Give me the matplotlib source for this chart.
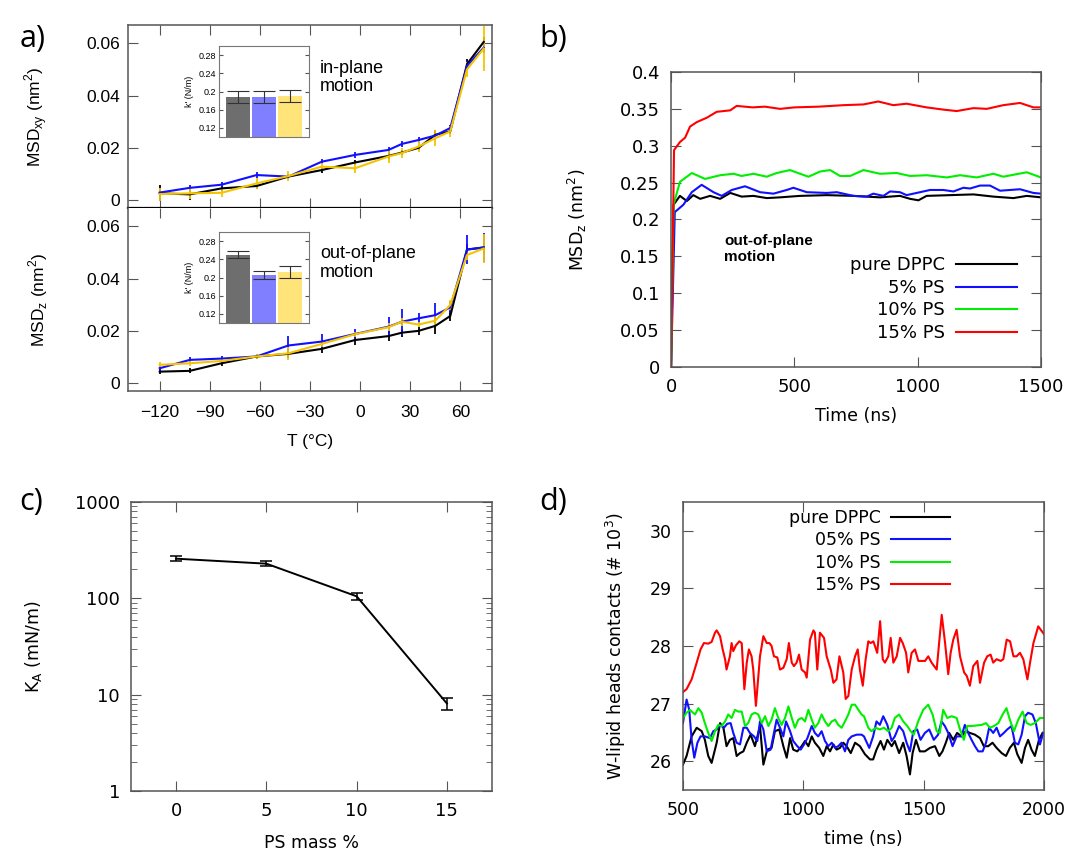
import matplotlib
matplotlib.use("Agg")
import matplotlib.pyplot as plt
import numpy as np
from matplotlib.ticker import FuncFormatter, LogLocator, NullFormatter

# ---- panel a: MSD vs temperature ----
temp_c = [-120, -102, -83, -62, -43, -23, -3, 17, 25, 35, 45, 54, 64, 74]

msd_xy_dppc = [0.0026, 0.0022, 0.0045, 0.0054, 0.0090, 0.0115, 0.0144, 0.0169, 0.0182, 0.0200, 0.0250, 0.0263, 0.0520, 0.0605]
msd_xy_ps5 = [0.0029, 0.0047, 0.0059, 0.0096, 0.0090, 0.0147, 0.0173, 0.0192, 0.0215, 0.0230, 0.0247, 0.0276, 0.0513, 0.0583]
msd_xy_ps10 = [0.0023, 0.0026, 0.0028, 0.0064, 0.0092, 0.0128, 0.0122, 0.0167, 0.0180, 0.0205, 0.0237, 0.0263, 0.0500, 0.0580]
err_xy_dppc = [0.003, 0.002, 0.001, 0.001, 0.001, 0.001, 0.001, 0.001, 0.001, 0.001, 0.002, 0.001, 0.002, 0.002]
err_xy_ps5 = [0.001, 0.001, 0.001, 0.001, 0.001, 0.001, 0.001, 0.001, 0.001, 0.001, 0.001, 0.001, 0.002, 0.002]
err_xy_ps10 = [0.0025, 0.002, 0.0015, 0.002, 0.002, 0.0015, 0.002, 0.0025, 0.002, 0.002, 0.003, 0.002, 0.003, 0.0087]

msd_z_dppc = [0.0044, 0.0047, 0.0076, 0.0102, 0.0112, 0.0131, 0.0165, 0.0180, 0.0193, 0.0200, 0.0219, 0.0257, 0.0511, 0.0519]
msd_z_ps5 = [0.0057, 0.0089, 0.0094, 0.0102, 0.0144, 0.0159, 0.0188, 0.0216, 0.0235, 0.0248, 0.0260, 0.0290, 0.0511, 0.0519]
msd_z_ps10 = [0.0070, 0.0076, 0.0085, 0.0102, 0.0114, 0.0150, 0.0187, 0.0214, 0.0235, 0.0224, 0.0239, 0.0299, 0.0490, 0.0515]
err_z_dppc = [0.001, 0.001, 0.001, 0.001, 0.0015, 0.0015, 0.002, 0.002, 0.0015, 0.0015, 0.003, 0.002, 0.002, 0.002]
err_z_ps5 = [0.001, 0.001, 0.001, 0.001, 0.0038, 0.003, 0.002, 0.0038, 0.005, 0.002, 0.0045, 0.002, 0.0057, 0.0057]
err_z_ps10 = [0.001, 0.001, 0.001, 0.001, 0.0025, 0.001, 0.001, 0.0015, 0.0015, 0.001, 0.002, 0.002, 0.002, 0.0057]

# insets: spring constants k'
k_xy = [0.188, 0.188, 0.190]
k_xy_err = [0.013, 0.013, 0.014]
k_z = [0.250, 0.205, 0.212]
k_z_err = [0.008, 0.009, 0.013]

# ---- panel b: MSD_z vs time ----
tb_dppc = [0, 10, 36, 64, 90, 118, 158, 199, 240, 286, 334, 388, 442, 523, 631, 739, 847, 928, 969, 1003, 1036, 1131, 1226, 1307, 1388, 1442, 1500]
b_dppc = [0, 0.220, 0.232, 0.225, 0.233, 0.228, 0.232, 0.228, 0.236, 0.231, 0.232, 0.229, 0.230, 0.232, 0.233, 0.232, 0.230, 0.232, 0.228, 0.226, 0.232, 0.233, 0.234, 0.231, 0.229, 0.232, 0.230]
tb_ps5 = [0, 15, 50, 84, 124, 172, 205, 246, 300, 361, 415, 469, 496, 550, 631, 672, 739, 793, 820, 861, 888, 928, 955, 996, 1050, 1104, 1145, 1185, 1212, 1253, 1293, 1334, 1415, 1469, 1500]
b_ps5 = [0, 0.210, 0.220, 0.237, 0.247, 0.237, 0.232, 0.240, 0.245, 0.237, 0.235, 0.240, 0.243, 0.237, 0.236, 0.237, 0.232, 0.231, 0.235, 0.232, 0.238, 0.237, 0.233, 0.236, 0.240, 0.240, 0.238, 0.243, 0.242, 0.246, 0.246, 0.239, 0.241, 0.236, 0.235]
tb_ps10 = [0, 10, 36, 84, 138, 199, 253, 286, 334, 388, 428, 482, 523, 557, 604, 645, 685, 726, 780, 847, 915, 969, 1036, 1118, 1172, 1239, 1307, 1347, 1442, 1500]
b_ps10 = [0, 0.220, 0.251, 0.263, 0.255, 0.260, 0.262, 0.259, 0.262, 0.258, 0.263, 0.267, 0.262, 0.258, 0.265, 0.267, 0.259, 0.259, 0.267, 0.262, 0.263, 0.259, 0.260, 0.257, 0.260, 0.257, 0.262, 0.258, 0.264, 0.257]
tb_ps15 = [0, 12, 36, 57, 77, 104, 145, 185, 240, 266, 330, 380, 442, 500, 600, 699, 780, 840, 901, 955, 1036, 1104, 1158, 1226, 1280, 1347, 1415, 1469, 1500]
b_ps15 = [0, 0.294, 0.305, 0.311, 0.326, 0.332, 0.338, 0.346, 0.348, 0.354, 0.352, 0.353, 0.350, 0.352, 0.353, 0.355, 0.356, 0.360, 0.355, 0.357, 0.352, 0.349, 0.347, 0.351, 0.350, 0.355, 0.358, 0.352, 0.352]

# ---- panel c: area compressibility ----
ps_mass = [0, 5, 10, 15]
ka = [258, 229, 105, 8.1]
ka_err = [15, 14, 8, 1.1]

# ---- panel d: W-lipid head contacts ----
td_dppc = [500, 515, 536, 557, 578, 591, 605, 619, 640, 654, 668, 681, 695, 709, 723, 737, 751, 765, 781, 799, 820, 834, 850, 868, 882, 900, 917, 931, 945, 958, 975, 993, 1007, 1021, 1035, 1048, 1066, 1083, 1097, 1111, 1125, 1138, 1152, 1166, 1180, 1197, 1215, 1235,
           1256, 1277, 1290, 1304, 1321, 1335, 1349, 1367, 1380, 1398, 1415, 1429, 1443, 1454, 1468, 1484, 1505, 1526, 1547, 1565, 1578, 1592, 1606, 1623, 1639, 1657, 1675, 1692, 1713, 1734, 1750, 1768, 1786, 1803, 1824, 1842, 1858, 1875, 1889, 1907, 1921, 1934, 1948, 1962, 1979, 1994]
d_dppc = [25.94, 26.09, 26.43, 26.58, 26.52, 26.37, 26.09, 25.97, 26.32, 26.66, 26.58, 26.26, 26.37, 26.40, 26.09, 26.14, 26.17, 26.32, 26.46, 26.26, 26.61, 25.94, 26.20, 26.23, 26.52, 26.55, 26.26, 26.06, 26.40, 26.20, 26.17, 26.26, 26.35, 26.26, 26.43, 26.32, 26.23, 26.09, 26.26, 26.17, 26.29, 26.20, 26.23, 26.32, 26.26, 26.14, 26.32, 26.26,
          26.12, 26.03, 26.03, 26.20, 26.35, 26.20, 26.37, 26.26, 26.35, 26.14, 26.32, 26.09, 25.77, 26.14, 26.37, 26.17, 26.17, 26.23, 26.26, 26.09, 26.17, 26.32, 26.49, 26.37, 26.49, 26.43, 26.52, 26.49, 26.46, 26.40, 26.26, 26.26, 26.32, 26.23, 26.14, 26.09, 26.23, 26.32, 26.12, 25.97, 26.23, 26.37, 26.20, 26.09, 26.37, 26.49]
td_ps5 = [500, 515, 526, 536, 547, 560, 573, 591, 612, 626, 640, 654, 670, 684, 698, 709, 723, 737, 751, 765, 778, 795, 809, 820, 834, 848, 864, 878, 889, 903, 917, 928, 945, 958, 975, 989, 1003, 1017, 1035, 1048, 1062, 1076, 1090, 1104, 1118, 1132, 1145, 1159, 1173, 1187, 1201, 1222, 1242,
          1252, 1274, 1290, 1304, 1318, 1332, 1349, 1367, 1380, 1398, 1415, 1429, 1443, 1457, 1473, 1487, 1505, 1523, 1542, 1560, 1574, 1588, 1602, 1620, 1637, 1657, 1671, 1685, 1699, 1713, 1727, 1745, 1759, 1772, 1789, 1803, 1817, 1833, 1847, 1865, 1879, 1893, 1907, 1921, 1934, 1952, 1966, 1983, 1997]
d_ps5 = [26.66, 27.07, 26.89, 26.37, 26.06, 26.32, 26.43, 26.43, 26.40, 26.52, 26.55, 26.63, 26.58, 26.65, 26.66, 26.49, 26.32, 26.29, 26.58, 26.58, 26.49, 26.43, 26.35, 26.69, 26.55, 26.17, 26.20, 26.49, 26.72, 26.58, 26.43, 26.69, 26.52, 26.35, 26.26, 26.20, 26.29, 26.40, 26.61, 26.49, 26.43, 26.52, 26.35, 26.26, 26.32, 26.23, 26.26, 26.32, 26.17, 26.37, 26.43, 26.46, 26.46,
         26.43, 26.23, 26.43, 26.69, 26.63, 26.78, 26.63, 26.35, 26.43, 26.61, 26.52, 26.32, 26.17, 26.52, 26.55, 26.37, 26.49, 26.55, 26.37, 26.46, 26.69, 26.61, 26.49, 26.26, 26.43, 26.43, 26.63, 26.49, 26.37, 26.26, 26.17, 26.17, 26.32, 26.58, 26.49, 26.58, 26.43, 26.49, 26.55, 26.61, 26.32, 26.29, 26.46, 26.78, 26.84, 26.81, 26.66, 26.29, 26.49]
td_ps10 = [500, 515, 529, 550, 564, 578, 591, 605, 619, 633, 647, 661, 675, 688, 702, 716, 730, 744, 758, 771, 785, 799, 813, 827, 841, 855, 868, 882, 896, 910, 924, 938, 952, 965, 979, 993, 1007, 1021, 1035, 1048, 1062, 1076, 1090, 1104, 1118, 1132, 1145, 1159, 1173, 1187, 1201, 1215, 1229, 1242,
           1252, 1270, 1283, 1301, 1318, 1335, 1353, 1367, 1380, 1398, 1415, 1432, 1446, 1459, 1477, 1498, 1519, 1537, 1554, 1567, 1581, 1598, 1616, 1637, 1651, 1667, 1681, 1699, 1720, 1741, 1759, 1775, 1792, 1810, 1828, 1844, 1858, 1875, 1893, 1911, 1928, 1944, 1962, 1983, 1999]
d_ps10 = [26.75, 26.84, 26.89, 26.81, 26.92, 26.84, 26.66, 26.49, 26.35, 26.52, 26.63, 26.61, 26.69, 26.81, 26.75, 26.89, 26.86, 26.86, 26.61, 26.66, 26.81, 26.84, 26.81, 26.66, 26.78, 26.61, 26.72, 26.92, 26.75, 26.63, 26.75, 26.95, 26.75, 26.58, 26.72, 26.75, 26.69, 26.89, 26.72, 26.58, 26.66, 26.81, 26.69, 26.61, 26.69, 26.72, 26.63, 26.58, 26.69, 26.81, 26.98, 26.98, 26.89, 26.81,
          26.78, 26.58, 26.52, 26.58, 26.55, 26.58, 26.52, 26.58, 26.75, 26.81, 26.69, 26.61, 26.52, 26.46, 26.69, 26.89, 26.98, 26.81, 26.52, 26.49, 26.89, 26.75, 26.78, 26.75, 26.55, 26.37, 26.61, 26.61, 26.62, 26.63, 26.66, 26.58, 26.61, 26.66, 26.81, 26.92, 26.72, 26.52, 26.72, 26.86, 26.66, 26.63, 26.66, 26.75, 26.75]
td_ps15 = [500, 515, 536, 557, 573, 587, 605, 619, 633, 640, 654, 665, 675, 681, 695, 702, 709, 720, 734, 744, 755, 765, 774, 785, 792, 803, 820, 834, 848, 859, 868, 878, 892, 903, 917, 931, 940, 952, 961, 972, 982, 993, 1007, 1014, 1028, 1042, 1048, 1058, 1069, 1086, 1097, 1114, 1125, 1138, 1150, 1166, 1176, 1187,
           1201, 1215, 1226, 1235, 1247, 1259, 1270, 1280, 1291, 1307, 1319, 1330, 1339, 1353, 1363, 1374, 1388, 1402, 1413, 1427, 1436, 1450, 1464, 1478, 1492, 1506, 1519, 1533, 1554, 1575, 1589, 1602, 1612, 1623, 1637, 1651, 1668, 1679, 1692, 1706, 1723, 1734, 1751, 1764, 1778, 1789, 1803, 1820, 1831, 1845, 1859, 1873, 1886, 1900, 1914, 1931, 1942, 1956, 1976, 1990, 2001]
d_ps15 = [27.20, 27.25, 27.42, 27.71, 27.94, 28.05, 28.04, 28.07, 28.23, 28.27, 28.17, 27.94, 27.77, 27.59, 27.82, 28.05, 27.91, 28.01, 28.08, 28.05, 27.25, 27.71, 27.94, 27.82, 27.59, 26.96, 27.82, 28.17, 28.05, 28.05, 28.00, 27.82, 27.80, 27.59, 27.62, 27.77, 28.05, 27.71, 27.65, 27.71, 27.85, 27.59, 27.54, 27.45, 28.11, 28.27, 28.23, 27.59, 28.23, 28.14, 27.82, 27.59, 27.36, 27.42, 27.82, 27.54, 27.08, 27.13,
          27.59, 27.82, 27.94, 27.59, 27.31, 27.77, 28.08, 28.05, 28.08, 27.88, 28.43, 27.77, 27.71, 27.82, 28.14, 27.71, 27.82, 28.14, 28.05, 27.88, 27.54, 27.88, 27.94, 27.74, 27.74, 27.74, 27.82, 27.71, 27.59, 28.54, 28.05, 27.51, 27.88, 28.11, 28.28, 27.82, 27.54, 27.48, 27.31, 27.65, 27.74, 27.36, 27.71, 27.82, 27.85, 27.71, 27.77, 27.74, 27.77, 28.11, 28.08, 27.82, 27.82, 27.88, 27.77, 27.42, 27.71, 28.05, 28.34, 28.26, 28.20]

BLACK, BLUE, GREEN, RED = '#000000', '#1010ff', '#00ee00', '#ff0000'
YELLOW = '#f5c400'
BAR_COLORS = ['#6e6e6e', '#7f7fff', '#ffe47a']
A_FONT = 'Liberation Sans'


def gp_axes(ax, size):
    # gnuplot look: mirrored inward ticks on every side
    ax.tick_params(which='both', direction='in', top=True, right=True, labelsize=size, color='#555555', pad=8)
    ax.tick_params(which='major', length=7)
    ax.tick_params(which='minor', length=4)
    for sp in ax.spines.values():
        sp.set_color('#555555')
        sp.set_linewidth(1.1)


def gfmt(v, pos):
    return '%g' % v


fig = plt.figure(figsize=(10.72, 8.58), dpi=100)

# ---------------- a) ----------------
ax_xy = fig.add_axes([0.1194, 0.7576, 0.3396, 0.2133])
ax_z = fig.add_axes([0.1194, 0.5443, 0.3396, 0.2133])

for ax, series, ylab in [
    (ax_xy, [(msd_xy_dppc, err_xy_dppc, BLACK), (msd_xy_ps5, err_xy_ps5, BLUE), (msd_xy_ps10, err_xy_ps10, YELLOW)], 'MSD$_\\mathregular{xy}$ (nm$^\\mathregular{2}$)'),
    (ax_z, [(msd_z_dppc, err_z_dppc, BLACK), (msd_z_ps5, err_z_ps5, BLUE), (msd_z_ps10, err_z_ps10, YELLOW)], 'MSD$_\\mathregular{z}$ (nm$^\\mathregular{2}$)'),
]:
    for vals, errs, col in series:
        ax.errorbar(temp_c, vals, yerr=errs, color=col, lw=1.5, elinewidth=1.3, capsize=0)
    ax.set_xlim(-139, 79)
    ax.set_ylim(-0.003, 0.067)
    ax.set_xticks([-120, -90, -60, -30, 0, 30, 60])
    ax.set_yticks([0, 0.02, 0.04, 0.06])
    ax.yaxis.set_major_formatter(FuncFormatter(gfmt))
    gp_axes(ax, 12.5)
    ax.tick_params(pad=6)
    ax.tick_params(axis='x', pad=10)
    for lbl in ax.get_xticklabels() + ax.get_yticklabels():
        lbl.set_family(A_FONT)
    ax.set_ylabel(ylab, fontsize=12.5, family=A_FONT)
    ax.yaxis.set_label_coords(-0.215, 0.5)

ax_xy.tick_params(labelbottom=False)
ax_xy.spines['bottom'].set_color('black')
ax_xy.spines['bottom'].set_linewidth(1.6)
ax_z.spines['top'].set_visible(False)
ax_z.set_xlabel('T (°C)', fontsize=12.5, family=A_FONT, labelpad=10)

ax_xy.text(-24, 0.047, 'in-plane\nmotion', fontsize=13, family=A_FONT, va='center', linespacing=1.1)
ax_z.text(-24, 0.046, 'out-of-plane\nmotion', fontsize=13, family=A_FONT, va='center', linespacing=1.1)

for rect, kv, ke in [([0.2043, 0.8403, 0.084, 0.106], k_xy, k_xy_err),
                     ([0.2043, 0.6235, 0.084, 0.106], k_z, k_z_err)]:
    ins = fig.add_axes(rect)
    xs = np.arange(len(kv))
    ins.bar(xs, kv, width=0.9, color=BAR_COLORS, edgecolor='none')
    ins.errorbar(xs, kv, yerr=ke, fmt='none', ecolor='#333333', elinewidth=0.8, capsize=8, capthick=0.8)
    ins.set_xlim(-0.73, 2.73)
    ins.set_ylim(0.1, 0.3)
    ins.set_xticks([])
    ins.set_yticks([0.12, 0.16, 0.2, 0.24, 0.28])
    ins.yaxis.set_major_formatter(FuncFormatter(gfmt))
    ins.tick_params(direction='in', right=True, labelsize=6.5, length=3, pad=2, color='#555555')
    for lbl in ins.get_yticklabels():
        lbl.set_family(A_FONT)
    for sp in ins.spines.values():
        sp.set_color('#777777')
    ins.set_ylabel("k' (N/m)", fontsize=6.5, family=A_FONT, labelpad=3)

# ---------------- b) ----------------
ax_b = fig.add_axes([0.626, 0.5723, 0.3451, 0.3438])
ax_b.plot(tb_dppc, b_dppc, color=BLACK, lw=1.5, label='pure DPPC')
ax_b.plot(tb_ps5, b_ps5, color=BLUE, lw=1.5, label='5% PS')
ax_b.plot(tb_ps10, b_ps10, color=GREEN, lw=1.5, label='10% PS')
ax_b.plot(tb_ps15, b_ps15, color=RED, lw=1.5, label='15% PS')
ax_b.set_xlim(0, 1500)
ax_b.set_ylim(0, 0.4)
ax_b.set_xticks([0, 500, 1000, 1500])
ax_b.set_yticks(np.arange(0, 0.41, 0.05))
ax_b.yaxis.set_major_formatter(FuncFormatter(gfmt))
gp_axes(ax_b, 13)
ax_b.set_xlabel('Time (ns)', fontsize=12.5, labelpad=8)
ax_b.set_ylabel('MSD$_\\mathregular{z}$ (nm$^\\mathregular{2}$)', fontsize=12.5, labelpad=22)
ax_b.text(215, 0.16, 'out-of-plane\nmotion', fontsize=11, family=A_FONT, weight='bold', va='center', linespacing=1.2)
ax_b.legend(loc='upper right', bbox_to_anchor=(0.935, 0.375), markerfirst=False, frameon=False,
            fontsize=13, handlelength=3.4, handletextpad=0.6, labelspacing=0.25, borderaxespad=0, borderpad=0)

# ---------------- c) ----------------
ax_c = fig.add_axes([0.1222, 0.0781, 0.3368, 0.3368])
ax_c.errorbar(ps_mass, ka, yerr=ka_err, color=BLACK, lw=1.4, elinewidth=1.1, capsize=4, capthick=1.1)
ax_c.set_yscale('log')
ax_c.set_xlim(-2.5, 17.5)
ax_c.set_ylim(1, 1000)
ax_c.set_xticks(ps_mass)
ax_c.yaxis.set_major_locator(LogLocator(base=10, numticks=10))
ax_c.yaxis.set_minor_locator(LogLocator(base=10, subs=np.arange(2, 10), numticks=10))
ax_c.yaxis.set_major_formatter(FuncFormatter(gfmt))
ax_c.yaxis.set_minor_formatter(NullFormatter())
gp_axes(ax_c, 13)
ax_c.set_xlabel('PS mass %', fontsize=12.5, labelpad=10)
ax_c.set_ylabel('K$_\\mathregular{A}$ (mN/m)', fontsize=12.5, labelpad=22)

# ---------------- d) ----------------
ax_d = fig.add_axes([0.6371, 0.0793, 0.3368, 0.3357])
ax_d.plot(td_dppc, d_dppc, color=BLACK, lw=1.5, label='pure DPPC')
ax_d.plot(td_ps5, d_ps5, color=BLUE, lw=1.5, label='05% PS')
ax_d.plot(td_ps10, d_ps10, color=GREEN, lw=1.5, label='10% PS')
ax_d.plot(td_ps15, d_ps15, color=RED, lw=1.5, label='15% PS')
ax_d.set_xlim(500, 2000)
ax_d.set_ylim(25.5, 30.5)
ax_d.set_xticks([500, 1000, 1500, 2000])
ax_d.set_yticks([26, 27, 28, 29, 30])
gp_axes(ax_d, 12.5)
ax_d.set_xlabel('time (ns)', fontsize=12.5, labelpad=8)
ax_d.set_ylabel('W-lipid heads contacts (# 10$^\\mathregular{3}$)', fontsize=12.5, labelpad=16)
ax_d.legend(loc='upper right', bbox_to_anchor=(0.74, 0.975), markerfirst=False, frameon=False,
            fontsize=12.5, handlelength=3.4, handletextpad=0.6, labelspacing=0.25, borderaxespad=0, borderpad=0)

# panel letters
for x, y, s in [(0.018, 0.955, 'a)'), (0.503, 0.955, 'b)'), (0.018, 0.415, 'c)'), (0.503, 0.415, 'd)')]:
    fig.text(x, y, s, fontsize=22, family='Open Sans', va='center')

fig.savefig('out.png', dpi=100)
